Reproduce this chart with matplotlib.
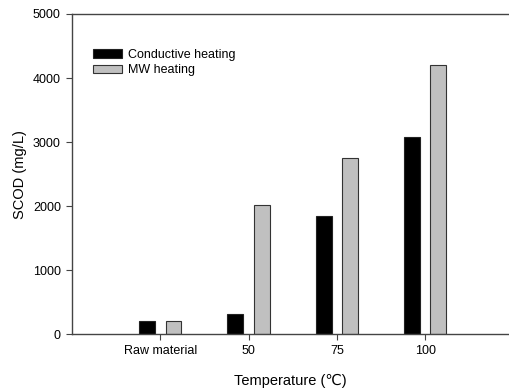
import matplotlib
matplotlib.use("Agg")
import matplotlib.pyplot as plt
import numpy as np

plt.rcParams['font.family'] = ['Liberation Sans', 'DejaVu Sans']

categories = ["Raw material", "50", "75", "100"]
conductive = [208, 323, 1844, 3075]
microwave = [208, 2011, 2745, 4200]
series_names = ["Conductive heating", "MW heating"]
yticks = [0, 1000, 2000, 3000, 4000, 5000]

fig = plt.figure(figsize=(5.09, 3.89), dpi=100)
ax = fig.add_axes([72/509, 1-334.3/389, 1-72/509, (334.3-14)/389])

x = np.arange(1, len(categories) + 1)
w = 0.18
off = 0.15
ax.bar(x - off, conductive, width=w, color='black', edgecolor='#222222', linewidth=0.8, label=series_names[0])
ax.bar(x + off, microwave, width=w, color='#c0c0c0', edgecolor='#333333', linewidth=0.8, label=series_names[1])

ax.set_xlim(0, 4.95)
ax.set_ylim(0, 5000)
ax.set_xticks(x)
ax.set_xticklabels(categories)
ax.set_yticks(yticks)
ax.tick_params(axis='both', labelsize=9, length=4, width=0.8, color='#444444', direction='out', pad=4)
for s in ['left', 'bottom', 'top']:
    ax.spines[s].set_color('#444444')
    ax.spines[s].set_linewidth(1.0)
ax.spines['right'].set_visible(False)

ax.set_xlabel("Temperature (\u2103)", fontsize=10.5, labelpad=12)
ax.set_ylabel("SCOD (mg/L)", fontsize=10.5, labelpad=4)

leg = ax.legend(loc='upper left', bbox_to_anchor=(0.047, 0.892), frameon=False, fontsize=9,
                handlelength=2.32, handleheight=0.72, handletextpad=0.53, labelspacing=0.3,
                borderpad=0, borderaxespad=0)

fig.savefig("out.png", dpi=100)
